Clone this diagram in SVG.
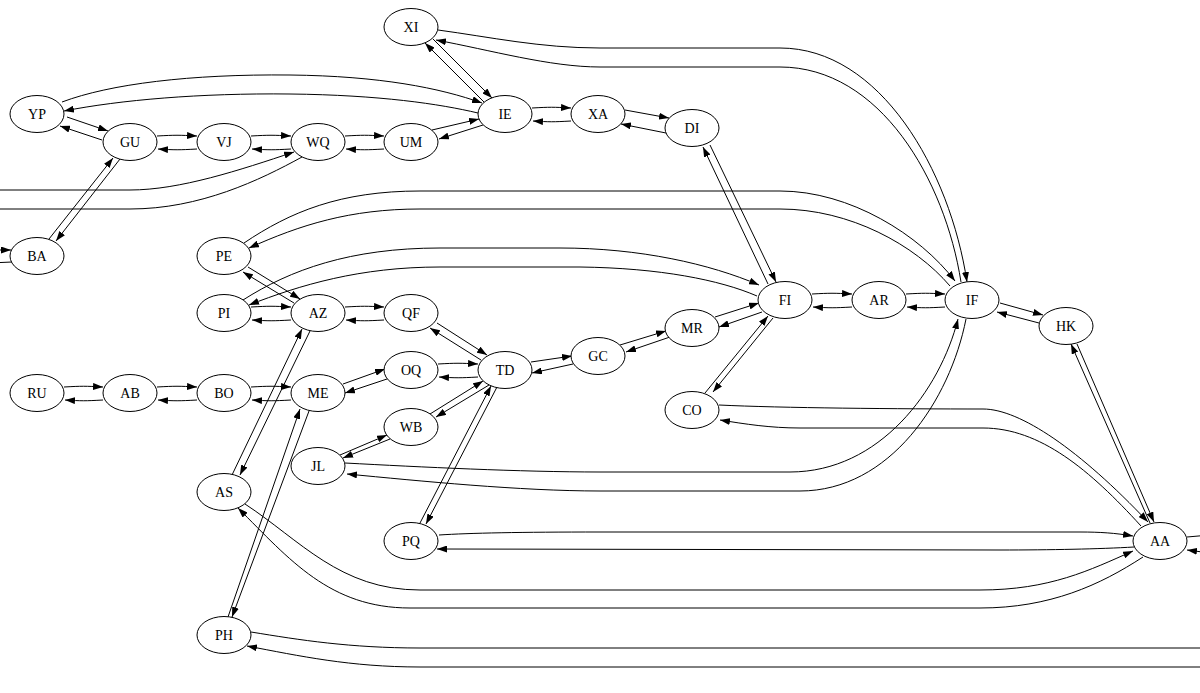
<svg xmlns="http://www.w3.org/2000/svg" width="1200" height="693" viewBox="0 0 1200 693">
<style>
.n ellipse{fill:#fff;stroke:#000;stroke-width:1}
.n text{font-family:"Liberation Serif","Times New Roman",serif;font-size:14px;text-anchor:middle;fill:#000}
#edges path{fill:none;stroke:#000;stroke-width:1;marker-end:url(#a)}
#edges path.p{marker-end:none}
</style>
<defs>
<marker id="a" markerWidth="10" markerHeight="7" refX="10" refY="3.5" orient="auto" markerUnits="userSpaceOnUse"><path d="M0,0 L10,3.5 L0,7 z" fill="#000"/></marker>
</defs>
<rect width="1200" height="693" fill="#fff"/>
<g id="edges">
<!-- YP / IE -->
<path d="M62,102 C110,84 190,74 290,75 C380,76 440,88 482,103"/>
<path d="M478,113 C440,104 380,95 290,94 C200,93 120,100 64,111"/>
<!-- YP / GU -->
<path d="M67,117 L108,131"/>
<path d="M102,140 L60,126"/>
<!-- horizontal pairs -->
<path d="M157,136 C175,135 179,135 197,136"/>
<path d="M197,149 C179,150 175,150 158,149"/>
<path d="M251,136 C269,135 273,135 291,136"/>
<path d="M291,149 C273,150 269,150 252,149"/>
<path d="M345,136 C363,135 366,135 384,136"/>
<path d="M384,149 C366,150 363,150 346,149"/>
<path d="M532,108 C550,107 553,107 571,108"/>
<path d="M571,121 C553,122 550,122 533,121"/>
<path d="M812,294 C830,293 834,293 852,294"/>
<path d="M852,307 C834,308 830,308 813,307"/>
<path d="M906,294 C924,293 927,293 945,294"/>
<path d="M945,307 C927,308 924,308 907,307"/>
<path d="M251,307 C269,306 273,306 291,307"/>
<path d="M291,320 C273,321 269,321 252,320"/>
<path d="M345,307 C363,306 366,306 384,307"/>
<path d="M384,320 C366,321 363,321 346,320"/>
<path d="M64,387 C82,386 85,386 103,387"/>
<path d="M103,400 C85,401 82,401 65,400"/>
<path d="M157,387 C175,386 179,386 197,387"/>
<path d="M197,400 C179,401 175,401 158,400"/>
<path d="M251,387 C269,386 273,386 291,387"/>
<path d="M291,400 C273,401 269,401 252,400"/>
<path d="M438,364 C456,363 460,363 478,364"/>
<path d="M478,377 C460,378 456,378 439,377"/>
<!-- UM / IE -->
<path d="M432,130 L479,119"/>
<path d="M483,125 L439,139"/>
<!-- XI / IE -->
<path d="M433,39 L492,98"/>
<path d="M484,102 L425,43"/>
<!-- XA / DI -->
<path d="M625,110 L669,118"/>
<path d="M666,133 L621,124"/>
<!-- DI / FI -->
<path d="M710,145 L776,282"/>
<path d="M768,284 L703,147"/>
<!-- GU / BA -->
<path d="M49,239 L113,158"/>
<path d="M120,159 L56,241"/>
<!-- PE / AZ -->
<path d="M248,267 L300,299"/>
<path d="M294,303 L243,272"/>
<!-- QF / TD -->
<path d="M437,323 L487,355"/>
<path d="M481,360 L430,328"/>
<!-- ME / OQ -->
<path d="M343,384 L385,369"/>
<path d="M387,379 L345,393"/>
<!-- TD / GC -->
<path d="M531,362 L572,356"/>
<path d="M573,364 L532,373"/>
<!-- GC / MR -->
<path d="M620,345 L666,331"/>
<path d="M670,337 L626,352"/>
<!-- MR / FI -->
<path d="M715,317 L759,303"/>
<path d="M762,312 L719,327"/>
<!-- FI / CO -->
<path d="M705,393 L768,316"/>
<path d="M773,318 L713,392"/>
<!-- IF / HK -->
<path d="M1000,303 L1043,315"/>
<path d="M1039,323 L997,312"/>
<!-- HK / AA -->
<path d="M1077,344 L1154,522"/>
<path d="M1150,523 L1071,344"/>
<!-- WB / TD -->
<path d="M430,414 L483,381"/>
<path d="M489,385 L436,417"/>
<!-- JL / WB -->
<path d="M340,455 L387,435"/>
<path d="M390,439 L343,458"/>
<!-- PQ / TD -->
<path d="M420,523 L491,386"/>
<path d="M497,387 L426,524"/>
<!-- AS / AZ -->
<path d="M232,475 L302,329"/>
<path d="M310,331 L240,475"/>
<!-- PH / ME -->
<path d="M228,617 L300,409"/>
<path d="M309,411 L232,617"/>
<!-- XI / IF -->
<path d="M438,30 C490,37 540,48 600,48 L780,48 C880,48 950,170 967,282"/>
<path d="M961,282 C945,180 880,67 780,67 L600,67 C550,67 490,50 436,40"/>
<!-- PE / IF -->
<path d="M244,243 C290,212 340,191 420,191 L780,191 C850,191 920,235 955,281"/>
<path d="M950,286 C915,245 850,209 780,209 L420,209 C350,209 300,225 249,248"/>
<!-- PI / FI -->
<path d="M243,300 C290,270 350,248 440,248 L560,248 C640,248 710,264 759,285"/>
<path d="M757,296 C720,280 660,268 580,267 L440,267 C360,267 300,285 249,305"/>
<!-- JL / IF -->
<path d="M345,463 C420,467 520,472 600,472 L790,472 C880,472 940,390 958,319"/>
<path d="M966,319 C950,400 890,491 800,491 L600,491 C520,491 420,481 347,474"/>
<!-- CO / AA -->
<path d="M719,405 C780,408 900,409 983,409 C1020,409 1080,450 1148,522"/>
<path d="M1141,526 C1090,470 1040,428 983,428 L800,428 C770,428 745,424 720,420"/>
<!-- PQ / AA -->
<path d="M439,535 C470,533 520,532 600,532 L1080,532 C1100,532 1115,533 1133,536"/>
<path d="M1134,547 C1100,549 1050,550 1000,550 L437,549"/>
<!-- AS / AA -->
<path d="M245,504 C300,540 340,590 420,590 L980,590 C1050,590 1090,570 1133,551"/>
<path d="M1143,557 C1100,585 1050,608 980,608 L410,608 C330,608 290,560 238,508"/>
<!-- PH / off right -->
<path class="p" d="M251,632 C300,640 350,648 420,648 L1210,648"/>
<path d="M1210,667 L420,667 C350,667 300,656 247,646"/>
<!-- AA / off right -->
<path class="p" d="M1187,537 L1210,535"/>
<path d="M1210,553 L1187,550"/>
<!-- WQ / off left -->
<path d="M-10,190 L130,190 C180,190 240,170 294,152"/>
<path class="p" d="M302,157 C260,180 200,209 130,209 L-10,209"/>
<!-- BA / off left -->
<path d="M-10,250 L11,250"/>
<path class="p" d="M12,262 L-10,263"/>
</g>
<g id="XI" class="n"><ellipse cx="411" cy="27" rx="27" ry="18.5"/><text x="411" y="32">XI</text></g>
<g id="YP" class="n"><ellipse cx="37" cy="114" rx="27" ry="18.5"/><text x="37" y="119">YP</text></g>
<g id="GU" class="n"><ellipse cx="130" cy="142" rx="27" ry="18.5"/><text x="130" y="147">GU</text></g>
<g id="VJ" class="n"><ellipse cx="224" cy="142" rx="27" ry="18.5"/><text x="224" y="147">VJ</text></g>
<g id="WQ" class="n"><ellipse cx="318" cy="142" rx="27" ry="18.5"/><text x="318" y="147">WQ</text></g>
<g id="UM" class="n"><ellipse cx="411" cy="142" rx="27" ry="18.5"/><text x="411" y="147">UM</text></g>
<g id="IE" class="n"><ellipse cx="505" cy="114" rx="27" ry="18.5"/><text x="505" y="119">IE</text></g>
<g id="XA" class="n"><ellipse cx="598" cy="114" rx="27" ry="18.5"/><text x="598" y="119">XA</text></g>
<g id="DI" class="n"><ellipse cx="692" cy="128" rx="27" ry="18.5"/><text x="692" y="133">DI</text></g>
<g id="BA" class="n"><ellipse cx="37" cy="256" rx="27" ry="18.5"/><text x="37" y="261">BA</text></g>
<g id="PE" class="n"><ellipse cx="224" cy="256" rx="27" ry="18.5"/><text x="224" y="261">PE</text></g>
<g id="PI" class="n"><ellipse cx="224" cy="313" rx="27" ry="18.5"/><text x="224" y="318">PI</text></g>
<g id="AZ" class="n"><ellipse cx="318" cy="313" rx="27" ry="18.5"/><text x="318" y="318">AZ</text></g>
<g id="QF" class="n"><ellipse cx="411" cy="313" rx="27" ry="18.5"/><text x="411" y="318">QF</text></g>
<g id="RU" class="n"><ellipse cx="37" cy="393" rx="27" ry="18.5"/><text x="37" y="398">RU</text></g>
<g id="AB" class="n"><ellipse cx="130" cy="393" rx="27" ry="18.5"/><text x="130" y="398">AB</text></g>
<g id="BO" class="n"><ellipse cx="224" cy="393" rx="27" ry="18.5"/><text x="224" y="398">BO</text></g>
<g id="ME" class="n"><ellipse cx="318" cy="393" rx="27" ry="18.5"/><text x="318" y="398">ME</text></g>
<g id="OQ" class="n"><ellipse cx="411" cy="370" rx="27" ry="18.5"/><text x="411" y="375">OQ</text></g>
<g id="TD" class="n"><ellipse cx="505" cy="370" rx="27" ry="18.5"/><text x="505" y="375">TD</text></g>
<g id="GC" class="n"><ellipse cx="598" cy="356" rx="27" ry="18.5"/><text x="598" y="361">GC</text></g>
<g id="MR" class="n"><ellipse cx="692" cy="328" rx="27" ry="18.5"/><text x="692" y="333">MR</text></g>
<g id="FI" class="n"><ellipse cx="785" cy="300" rx="27" ry="18.5"/><text x="785" y="305">FI</text></g>
<g id="AR" class="n"><ellipse cx="879" cy="300" rx="27" ry="18.5"/><text x="879" y="305">AR</text></g>
<g id="IF" class="n"><ellipse cx="972" cy="300" rx="27" ry="18.5"/><text x="972" y="305">IF</text></g>
<g id="HK" class="n"><ellipse cx="1066" cy="326" rx="27" ry="18.5"/><text x="1066" y="331">HK</text></g>
<g id="CO" class="n"><ellipse cx="692" cy="410" rx="27" ry="18.5"/><text x="692" y="415">CO</text></g>
<g id="WB" class="n"><ellipse cx="411" cy="427" rx="27" ry="18.5"/><text x="411" y="432">WB</text></g>
<g id="JL" class="n"><ellipse cx="318" cy="466" rx="27" ry="18.5"/><text x="318" y="471">JL</text></g>
<g id="AS" class="n"><ellipse cx="224" cy="492" rx="27" ry="18.5"/><text x="224" y="497">AS</text></g>
<g id="PQ" class="n"><ellipse cx="411" cy="541" rx="27" ry="18.5"/><text x="411" y="546">PQ</text></g>
<g id="AA" class="n"><ellipse cx="1160" cy="541" rx="27" ry="18.5"/><text x="1160" y="546">AA</text></g>
<g id="PH" class="n"><ellipse cx="224" cy="635" rx="27" ry="18.5"/><text x="224" y="640">PH</text></g>
</svg>
